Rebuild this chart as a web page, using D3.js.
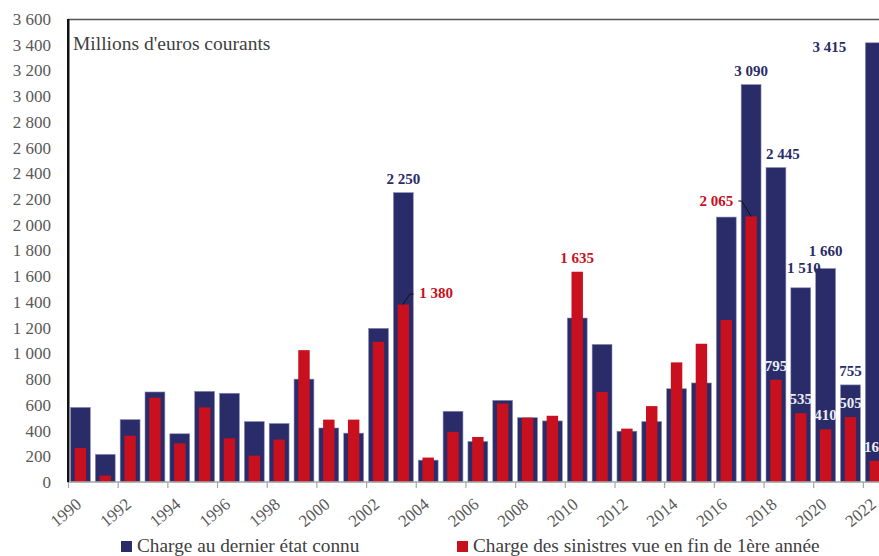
<!DOCTYPE html>
<html>
<head>
<meta charset="utf-8">
<script src="https://cdn.jsdelivr.net/npm/d3@7"></script>
<style>
  body { margin: 0; background: #fff; }
  svg { display: block; font-family: "Liberation Serif", "DejaVu Serif", serif; }
</style>
</head>
<body>
<div id="chart"></div>
<script>
// data (millions d'euros courants)
var years = d3.range(1990, 2023);
var chargeDernier = [580, 215, 485, 700, 375, 705, 690, 470, 455, 800,
                     420, 380, 1195, 2250, 170, 550, 315, 635, 500, 475,
                     1275, 1070, 395, 470, 725, 770, 2060, 3090, 2445, 1510,
                     1660, 755, 3415];
var chargeFin1 = [265, 50, 360, 655, 300, 580, 340, 205, 330, 1025,
                  485, 485, 1090, 1380, 190, 390, 350, 610, 500, 515,
                  1635, 700, 415, 590, 930, 1075, 1260, 2065, 795, 535,
                  410, 505, 165];
var tickYears = d3.range(1990, 2023, 2);
var yTicks = d3.range(0, 3601, 200);
var seriesNames = ["Charge au dernier état connu", "Charge des sinistres vue en fin de 1ère année"];
var blueLabelYears = [2003, 2017, 2018, 2019, 2020, 2021, 2022];
var redLabelYears = [2003, 2010, 2017, 2018, 2019, 2020, 2021, 2022];

var navy = "#2a2c69", red = "#c8101e";
var width = 879, height = 556;
var mLeft = 68, mTop = 19, mBottom = 482;
var band = 24.84;

var svg = d3.select("#chart").append("svg")
  .attr("width", width).attr("height", height);

var x = d3.scaleBand().domain(years).range([mLeft, mLeft + band * years.length]).paddingInner(0).paddingOuter(0);
var xl = d3.scaleLinear().domain([1990, 2023]).range([mLeft, mLeft + band * years.length]);
var y = d3.scaleLinear().domain([0, 3600]).range([mBottom, mTop]);

var fmt = function(v) { return d3.format(",")(v).replace(/,/g, " "); };

// frame top line
svg.append("line").attr("x1", mLeft).attr("x2", width).attr("y1", mTop + 0.5).attr("y2", mTop + 0.5)
  .attr("stroke", "#555").attr("stroke-width", 1.5);

// bars
var bw = x.bandwidth() * 0.8, rw = x.bandwidth() * 0.46;
svg.append("g").selectAll("rect").data(years).enter().append("rect")
  .attr("x", function(d) { return x(d) + (x.bandwidth() - bw) / 2; })
  .attr("width", bw)
  .attr("y", function(d, i) { return y(chargeDernier[i]); })
  .attr("height", function(d, i) { return mBottom - y(chargeDernier[i]); })
  .attr("fill", navy).attr("stroke", "#8d8fb5").attr("stroke-width", 0.6);

svg.append("g").selectAll("rect").data(years).enter().append("rect")
  .attr("x", function(d) { return x(d) + (x.bandwidth() - rw) / 2; })
  .attr("width", rw)
  .attr("y", function(d, i) { return y(chargeFin1[i]); })
  .attr("height", function(d, i) { return mBottom - y(chargeFin1[i]); })
  .attr("fill", red);

// axes
var yAxis = svg.append("g").attr("transform", "translate(" + mLeft + ",0)")
  .call(d3.axisLeft(y).tickValues(yTicks).tickSize(0).tickPadding(17).tickFormat(fmt));
yAxis.select(".domain").attr("stroke", "#111").attr("stroke-width", 2);
yAxis.selectAll("text").attr("fill", "#595959").style("font-size", "17px").style("font-family", "Liberation Serif");

var xAxis = svg.append("g").attr("transform", "translate(0," + mBottom + ")")
  .call(d3.axisBottom(xl).tickValues(tickYears).tickSize(6).tickFormat(d3.format("d")));
xAxis.select(".domain").attr("stroke", "#a6a6a6").attr("stroke-width", 1.5).attr("d", "M" + mLeft + ",0H" + width);
xAxis.selectAll(".tick line").attr("stroke", "#a6a6a6").attr("stroke-width", 1.2);
xAxis.selectAll("text")
  .attr("fill", "#595959").style("font-size", "17px").style("font-family", "Liberation Serif")
  .attr("text-anchor", "end").attr("dy", null).attr("y", 0)
  .attr("transform", "translate(14,24) rotate(-40)");

// re-draw left axis line over the bars' edge
svg.append("line").attr("x1", mLeft).attr("x2", mLeft).attr("y1", mTop).attr("y2", mBottom)
  .attr("stroke", "#111").attr("stroke-width", 2);

// unit title
svg.append("text").attr("x", 73).attr("y", 50).text("Millions d'euros courants")
  .attr("fill", "#404040").style("font-size", "19.5px");

// data labels
var blueOff = {2018: [7, -9], 2019: [3, -15], 2020: [0, -12.5], 2022: [-29, 9, "end"]};
var labels = svg.append("g").style("font-size", "15px").style("font-weight", "bold");
blueLabelYears.forEach(function(yr) {
  var i = years.indexOf(yr), o = blueOff[yr] || [0, -9];
  labels.append("text")
    .attr("x", x(yr) + x.bandwidth() / 2 + o[0])
    .attr("y", y(chargeDernier[i]) + o[1])
    .attr("text-anchor", o[2] || "middle")
    .attr("fill", navy)
    .text(fmt(chargeDernier[i]));
});

var redOff = {2003: [16, -6.5, "start"], 2017: [-17.8, -10.7, "end"]};
redLabelYears.forEach(function(yr) {
  var i = years.indexOf(yr), o = redOff[yr] || [0, -9];
  var onRed = yr === 2003 || yr === 2010 || yr === 2017;
  labels.append("text")
    .attr("x", x(yr) + x.bandwidth() / 2 + o[0])
    .attr("y", y(chargeFin1[i]) + o[1])
    .attr("text-anchor", o[2] || "middle")
    .attr("fill", onRed ? red : "#ececf4")
    .text(fmt(chargeFin1[i]));
});

// leader lines
var leaders = {2003: [[-0.6, 0], [6.7, -10.5], [10.2, -10.5]], 2017: [[-12.8, -15.4], [-9.4, -15.4], [0, 0]]};
Object.keys(leaders).forEach(function(k) {
  var yr = +k, i = years.indexOf(yr);
  var cx = x(yr) + x.bandwidth() / 2, cy = y(chargeFin1[i]);
  svg.append("path")
    .attr("d", d3.line()(leaders[k].map(function(p) { return [cx + p[0], cy + p[1]]; })))
    .attr("fill", "none").attr("stroke", "#111").attr("stroke-width", 1);
});

// legend
var legend = svg.append("g").style("font-size", "19.3px");
var legX = [121, 457], legC = [navy, red];
seriesNames.forEach(function(name, i) {
  legend.append("rect").attr("x", legX[i]).attr("y", 541).attr("width", 11).attr("height", 11).attr("fill", legC[i]);
  legend.append("text").attr("x", legX[i] + 16).attr("y", 552).attr("fill", "#404040").text(name);
});
</script>
</body>
</html>
